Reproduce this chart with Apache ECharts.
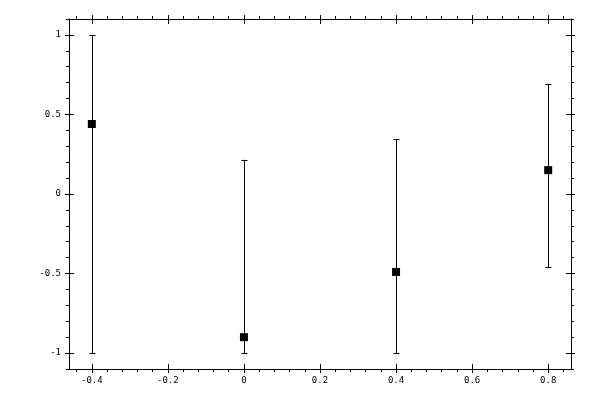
<!DOCTYPE html>
<html>
<head>
<meta charset="utf-8">
<script src="https://cdn.jsdelivr.net/npm/echarts@6/dist/echarts.min.js"></script>
<style>
	html,body{margin:0;padding:0;background:#fff;}
	#chart{width:600px;height:400px;}
</style>
</head>
<body>
<div id="chart"></div>
<script>
// data
var xVals   = [-0.4, 0, 0.4, 0.8];
var yVals   = [0.44, -0.9, -0.49, 0.15];
var errLow  = [-1, -1, -1, -0.46];
var errHigh = [1, 0.215, 0.345, 0.69];

// axes
var xMin = -0.46, xMax = 0.86;
var yMin = -1.1, yMax = 1.1;
var xTicks = [-0.4, -0.2, 0, 0.2, 0.4, 0.6, 0.8];
var yTicks = [-1, -0.5, 0, 0.5, 1];
var xMinorStep = 0.04, yMinorStep = 0.1;

var FONT = "DejaVu Sans Mono";

// tiny deep-extend so no jQuery is needed
var $ = {extend:function(deep, target){
	for(var i = 2; i < arguments.length; i++){
		var src = arguments[i];
		for(var k in src){
			var v = src[k];
			if(v && typeof v == "object" && !Array.isArray(v) && typeof v != "function"){
				target[k] = $.extend(true, target[k] || {}, v);
			}else{
				target[k] = v;
			}
		}
	}
	return target;
}};

function minors(lo, hi, start, step, majors){
	var out = [];
	var k0 = Math.ceil((lo - start) / step - 1e-9);
	for(var k = k0; start + k * step <= hi + 1e-9; k++){
		var v = +(start + k * step).toFixed(4);
		var isMajor = false;
		for(var i = 0; i < majors.length; i++){
			if(Math.abs(majors[i] - v) < 1e-9){ isMajor = true; }
		}
		if(!isMajor){ out.push(v); }
	}
	return out;
}

var xMinor = minors(xMin, xMax, xTicks[0], xMinorStep, xTicks);
var yMinor = minors(yMin, yMax, yTicks[0], yMinorStep, yTicks);

// 3 axes per side: line+outer major ticks(+labels), inner major ticks, outer minor ticks
function sideAxes(dim, pos, min, max, majors, minorVals, withLabels){
	var base = {
		type:"value", gridIndex:0, position:pos, min:min, max:max,
		splitLine:{show:false}, axisPointer:{show:false},
		axisLine:{onZero:false}
	};
	var a = $.extend(true, {}, base, {
		axisLine:{show:true, lineStyle:{color:"#000", width:1}},
		axisTick:{show:true, inside:false, length:4, customValues:majors, lineStyle:{color:"#000", width:1}},
		axisLabel:{show:withLabels, customValues:majors, color:"#000", fontFamily:FONT, fontSize:9,
			margin:dim == "x" ? 7 : 8, formatter:function(v){ return String(+v.toFixed(4)); }}
	});
	var b = $.extend(true, {}, base, {
		axisLine:{show:false},
		axisTick:{show:true, inside:true, length:5, customValues:majors, lineStyle:{color:"#000", width:1}},
		axisLabel:{show:false}
	});
	var c = $.extend(true, {}, base, {
		axisLine:{show:false},
		axisTick:{show:true, inside:false, length:3, customValues:minorVals, lineStyle:{color:"#000", width:1}},
		axisLabel:{show:false}
	});
	return [a, b, c];
}

var xAxes = sideAxes("x", "bottom", xMin, xMax, xTicks, xMinor, true)
	.concat(sideAxes("x", "top", xMin, xMax, xTicks, xMinor, false));
var yAxes = sideAxes("y", "left", yMin, yMax, yTicks, yMinor, true)
	.concat(sideAxes("y", "right", yMin, yMax, yTicks, yMinor, false));

var errData = [], ptData = [];
for(var i = 0; i < xVals.length; i++){
	errData.push([xVals[i], errLow[i], errHigh[i]]);
	ptData.push([xVals[i], yVals[i]]);
}

var chart = echarts.init(document.getElementById("chart"), null, {renderer:"canvas"});
chart.setOption({
	animation:false,
	backgroundColor:"#fff",
	grid:{left:69, right:29, top:19, bottom:31, containLabel:false, outerBoundsMode:"none"},
	xAxis:xAxes,
	yAxis:yAxes,
	series:[{
		type:"custom",
		xAxisIndex:0, yAxisIndex:0,
		data:errData,
		renderItem:function(params, api){
			var lo = api.coord([api.value(0), api.value(1)]);
			var hi = api.coord([api.value(0), api.value(2)]);
			var x = Math.round(lo[0]) + 0.5, cap = 3;
			var st = {stroke:"#000", lineWidth:1};
			return {type:"group", children:[
				{type:"line", shape:{x1:x, y1:lo[1], x2:x, y2:hi[1]}, style:st},
				{type:"line", shape:{x1:x - cap, y1:Math.round(lo[1]) + 0.5, x2:x + cap, y2:Math.round(lo[1]) + 0.5}, style:st},
				{type:"line", shape:{x1:x - cap, y1:Math.round(hi[1]) + 0.5, x2:x + cap, y2:Math.round(hi[1]) + 0.5}, style:st}
			]};
		}
	},{
		type:"scatter",
		xAxisIndex:0, yAxisIndex:0,
		data:ptData,
		symbol:"rect",
		symbolSize:8,
		itemStyle:{color:"#000", opacity:1},
		z:5
	}]
});
</script>
</body>
</html>
